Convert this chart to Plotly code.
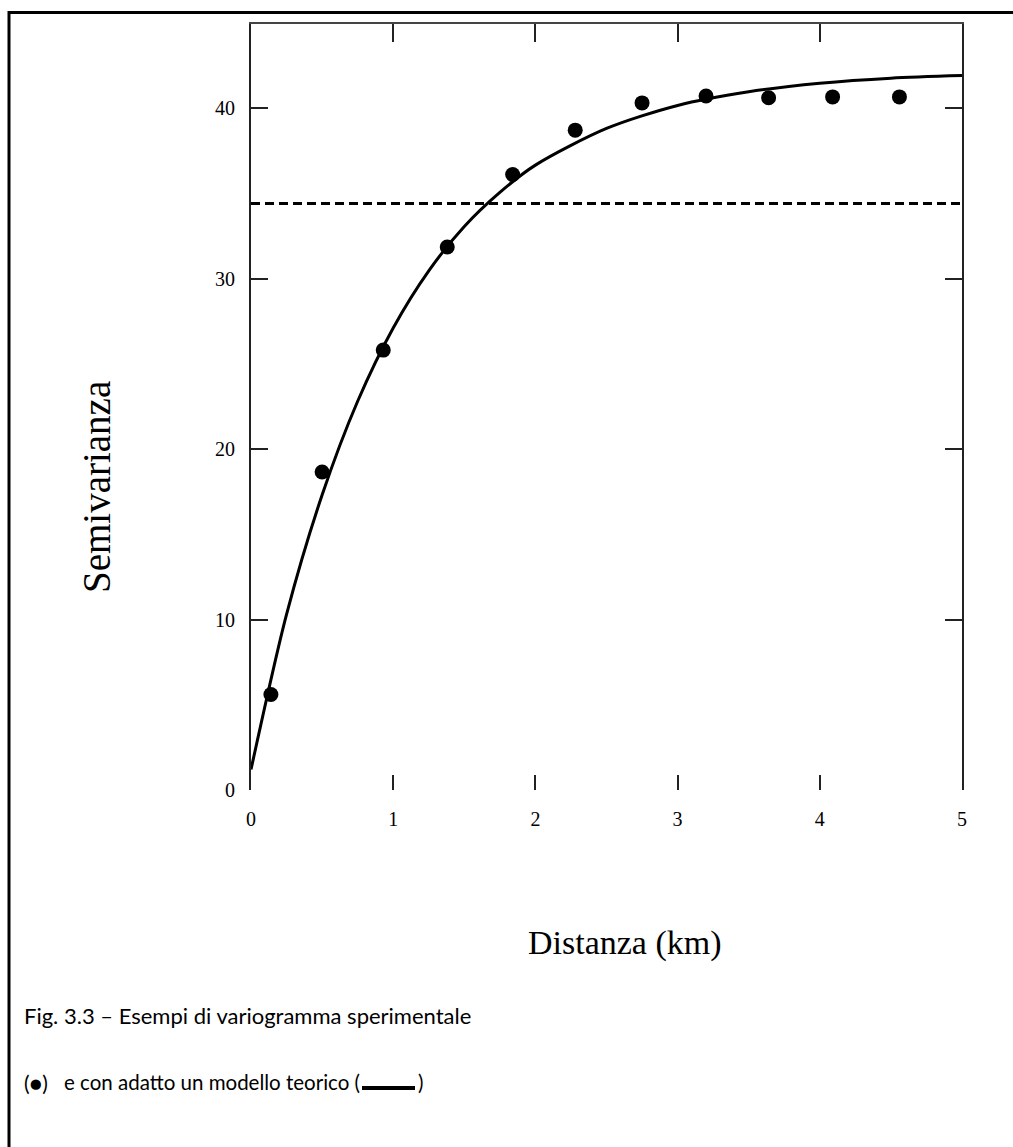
import plotly.graph_objects as go

# ---- data ----
dist_pts = [0.14, 0.50, 0.93, 1.38, 1.84, 2.28, 2.75, 3.20, 3.64, 4.09, 4.56]
semiv_pts = [5.6, 18.65, 25.8, 31.85, 36.1, 38.7, 40.3, 40.7, 40.6, 40.65, 40.65]

model_x = [0.0, 0.25, 0.5, 0.75, 1.0, 1.25, 1.5, 1.75, 2.0, 2.5, 3.0, 3.5, 4.0, 4.5, 5.0]
model_y = [1.2, 10.3, 17.3, 22.8, 27.1, 30.45, 33.05, 35.05, 36.65, 38.8, 40.15, 40.95, 41.45, 41.75, 41.9]

sill_x = [0.0, 5.0]
sill_y = [34.4, 34.4]

x_ticks = [0, 1, 2, 3, 4, 5]
y_ticks = [0, 10, 20, 30, 40]

W, H = 1013, 1147
L, R, T, B = 251, 962, 24, 790  # plot area in pixels
y_top = (B - T) / ((B - 108) / 40)


def px(xp):
    return (xp - L) / (R - L)


def py(yp):
    return (B - yp) / (B - T)


fig = go.Figure()

fig.add_trace(go.Scatter(x=sill_x, y=sill_y, mode="lines",
                         line=dict(color="black", width=3, dash="9px,5px"),
                         showlegend=False, hoverinfo="skip"))
fig.add_trace(go.Scatter(x=model_x, y=model_y, mode="lines",
                         line=dict(color="black", width=3, shape="spline", smoothing=0.8),
                         showlegend=False))
fig.add_trace(go.Scatter(x=dist_pts, y=semiv_pts, mode="markers",
                         marker=dict(color="black", size=15, line=dict(width=0)),
                         showlegend=False))
# invisible trace to attach the top axis
fig.add_trace(go.Scatter(x=sill_x, y=sill_y, xaxis="x2", mode="lines",
                         line=dict(width=0), opacity=0, showlegend=False, hoverinfo="skip"))

serif = "Liberation Serif, Times New Roman, serif"
tickfont = dict(family=serif, size=20, color="black")

fig.update_layout(
    width=W, height=H,
    margin=dict(l=L, r=W - R, t=T, b=H - B, pad=0),
    paper_bgcolor="white", plot_bgcolor="white",
    xaxis=dict(range=[0, 5], tickvals=x_ticks, showgrid=False, zeroline=False,
               showline=False, ticks="inside", ticklen=15, tickwidth=2, tickcolor="#222",
               tickfont=tickfont, ticklabelstandoff=15),
    xaxis2=dict(range=[0, 5], tickvals=x_ticks, overlaying="x", side="top", anchor="y",
                showgrid=False, zeroline=False, showline=True, linecolor="#444",
                linewidth=1.5, ticks="inside", ticklen=18, tickwidth=2, tickcolor="#222",
                showticklabels=False),
    yaxis=dict(range=[0, y_top], tickvals=y_ticks, showgrid=False, zeroline=False,
               showline=True, mirror="ticks", linecolor="#222", linewidth=2,
               ticks="inside", ticklen=17, tickwidth=2, tickcolor="#222",
               tickfont=tickfont, ticklabelstandoff=10),
)

sans = "Lato, Noto Sans, sans-serif"
annos = [
    dict(text="Semivarianza", x=px(96), y=py(487), textangle=-90, xanchor="center",
         font=dict(family=serif, size=39, color="black")),
    dict(text="Distanza (km)", x=px(625), y=py(943), xanchor="center",
         font=dict(family=serif, size=34, color="black")),
    dict(text="Fig. 3.3 \u2013 Esempi di variogramma sperimentale", x=px(22), y=py(1015),
         xanchor="left", font=dict(family=sans, size=22, color="black")),
    dict(text="(\u25CF)", x=px(22), y=py(1082),
         xanchor="left", font=dict(family=sans, size=21, color="black")),
    dict(text="e con adatto un modello teorico (", x=px(62), y=py(1082),
         xanchor="left", font=dict(family=sans, size=20.5, color="black")),
    dict(text=")", x=px(416), y=py(1082),
         xanchor="left", font=dict(family=sans, size=20.5, color="black")),
]
for a in annos:
    a.update(xref="paper", yref="paper", showarrow=False, yanchor="middle")
    fig.add_annotation(**a)

# solid bar inside the caption parentheses
fig.add_shape(type="line", xref="paper", yref="paper",
              x0=px(362), x1=px(415), y0=py(1088), y1=py(1088),
              line=dict(color="black", width=4))

# outer frame of the figure (top and left edges visible)
fig.add_shape(type="rect", xref="paper", yref="paper",
              x0=px(9), x1=px(1030), y0=py(12.5), y1=py(1170),
              line=dict(color="black", width=3), layer="below")

fig.write_html("out.html")
